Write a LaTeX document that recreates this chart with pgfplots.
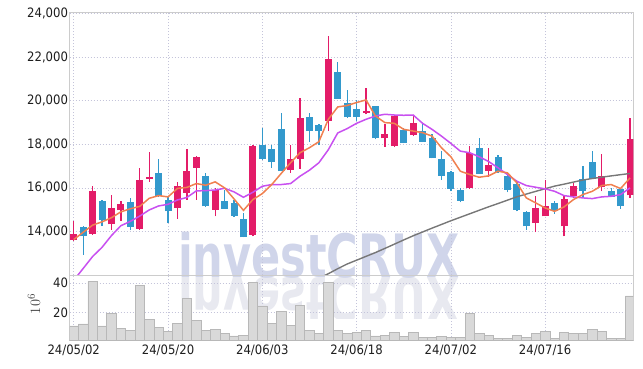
\documentclass[border=0pt]{standalone}
\usepackage{fontspec}
\setmainfont{DejaVu Sans Condensed}
\usepackage{pgfplots}
\pgfplotsset{compat=1.18}
\usepackage{pgfplotstable}
\definecolor{upc}{HTML}{E31C68}
\definecolor{dnc}{HTML}{3399CC}
\definecolor{mafive}{HTML}{F08050}
\definecolor{matwenty}{HTML}{C850F0}
\definecolor{masixty}{HTML}{777777}
\definecolor{axc}{HTML}{CCCCCC}
\definecolor{gridc}{HTML}{C4C4DA}
\definecolor{tickc}{HTML}{1E1E1E}
\definecolor{volf}{HTML}{D9D9D9}
\definecolor{vole}{HTML}{B8B8B8}
\definecolor{wm}{HTML}{D0D5EA}
\definecolor{wmr}{HTML}{E8E9F0}

\pgfplotstableread{
i o h l c
0 13585 14460 13540 13894
2 13894 16074 13848 15843
4 14323 15677 14078 15092
5 14968 15415 14479 15276
7 14124 16921 14078 16382
8 16415 17659 16276 16507
11 15078 16258 14571 16074
12 15769 17797 15461 16797
13 16921 17456 15461 17410
15 15000 16000 14691 15889
19 13848 17950 13770 17903
23 16811 17981 16691 17336
24 17336 20147 16875 19193
27 19069 22958 18608 21912
31 19456 20562 19378 19516
33 18272 18917 17889 18456
34 17917 19345 17871 19299
36 18424 19299 18377 18963
42 16000 17917 15954 17580
44 16765 17811 16507 17028
49 14387 15645 13972 15092
50 14691 16382 14691 15152
52 14230 15659 13770 15507
53 15645 16230 15539 16106
56 16046 17534 15843 16567
59 15659 19225 15539 18258
}\upt

\pgfplotstableread{
i o h l c
1 14203 14263 12926 13770
3 15382 15428 14263 14539
6 15369 15521 14046 14217
9 16691 17336 15600 15613
10 15461 15585 14387 14922
14 16534 16691 15138 15152
16 15415 15922 15040 15046
17 15309 15461 14664 14723
18 14585 14848 13724 13724
20 17949 18765 17300 17304
21 17797 17949 16921 17180
22 18686 19456 16765 16765
25 19271 19456 18101 18608
26 18885 18935 17949 18608
28 21327 21788 20069 20101
29 19917 20484 19230 19253
30 19608 20037 19069 19253
32 19760 19780 18226 18272
35 18654 18765 18041 18041
37 18594 18917 18100 18120
38 18304 18488 17350 17350
39 17304 17686 16382 16567
40 16737 16780 15843 15968
41 15922 16000 15336 15415
43 17843 18304 16640 16659
45 17410 17488 16700 16719
46 16567 16691 15797 15922
47 16184 16336 14922 15000
48 14908 14950 14078 14230
51 15309 15382 14802 14954
54 16429 16995 15585 15843
55 17180 17686 16420 16429
57 15843 16000 15570 15585
58 15954 16000 15032 15152
}\dnt

\pgfplotstableread{
i ma5 ma20
0 13630 11755
1 13960 12300
2 14290 12848
3 14440 13270
4 14630 13810
5 14900 14263
6 15040 14461
7 15150 14705
8 15520 14985
9 15645 15170
10 15585 15245
11 15975 15445
12 16020 15560
13 16198 15860
14 16120 15875
15 16276 15900
16 16000 15981
17 15493 15815
18 14968 15567
19 15461 15797
20 15737 16074
21 16152 16152
22 16659 16152
23 17152 16198
24 17613 16535
25 17843 16811
26 18120 17152
27 19147 17750
28 19714 18520
29 19780 18720
30 19917 18963
31 20037 19147
32 19299 19299
33 18995 19378
34 18963 19345
35 18686 19332
36 18608 19345
37 18534 18963
38 18377 18686
39 17843 18377
40 17428 18041
41 16765 17686
42 16613 17613
43 16488 17428
44 16550 17210
45 16765 16921
46 16691 16613
47 16230 16304
48 15539 16106
49 15309 16028
50 15078 15954
51 14922 15843
52 15124 15645
53 15461 15585
54 15691 15539
55 15843 15507
56 16106 15585
57 16152 15613
58 15968 15691
59 16456 16000
}\mat

\pgfplotstableread{
i ma
26 11850
27 12058
28 12290
29 12505
30 12680
31 12855
32 13030
33 13220
34 13415
35 13610
36 13800
37 13975
38 14150
39 14320
40 14490
41 14650
42 14810
43 14970
44 15130
45 15280
46 15435
47 15590
48 15715
49 15840
50 15960
51 16080
52 16170
53 16265
54 16360
55 16430
56 16490
57 16550
58 16605
59 16660
}\mlong

\pgfplotstableread{
i v
0 11.0
1 12.3
2 41.1
3 11.0
4 19.6
5 9.4
6 8.0
7 38.6
8 15.5
9 10.1
10 7.4
11 12.8
12 29.8
13 14.8
14 8.0
15 8.7
16 6.0
17 4.2
18 4.6
19 40.4
20 24.6
21 12.8
22 20.9
23 11.6
24 25.0
25 8.0
26 6.0
27 40.4
28 7.8
29 6.0
30 6.4
31 7.8
32 4.2
33 4.6
34 6.4
35 3.7
36 6.4
37 3.3
38 3.3
39 3.7
40 3.3
41 3.3
42 19.6
43 6.0
44 4.6
45 2.3
46 2.3
47 4.6
48 3.3
49 6.0
50 7.4
51 2.3
52 6.7
53 6.0
54 6.0
55 8.7
56 7.4
57 2.6
58 2.6
59 31.4
}\volt

\pgfplotsset{
  common/.style={
    scale only axis, width=563.8bp,
    xmin=-0.45, xmax=59.35,
    axis line style={draw=axc, line width=0.8bp},
    grid=major,
    major grid style={draw=gridc, line width=0.6bp, dash pattern=on 1bp off 2bp},
    major tick length=0pt,
    tick style={draw=none},
    xtick={0,10,20,30,40,50},
    tick label style={font=\fontsize{13}{13}\selectfont, text=tickc},
    yticklabel style={xshift=2bp},
    /pgf/number format/assume math mode=true,
    scaled y ticks=false,
    clip=true,
  },
  candle/.style={only marks, mark=o, mark size=0pt, mark options={draw=none, fill=none}, forget plot,
    error bars/.cd, y dir=plus, y explicit, error mark=none},
}

\begin{document}
\begin{tikzpicture}
\useasboundingbox (0bp,0bp) rectangle (643bp,-369bp);
\begin{scope}
\clip (69.5bp,-12.5bp) rectangle (633.3bp,-318bp);
\node[anchor=base west, inner sep=0pt, text=wmr, font=\bfseries\fontsize{60}{60}\selectfont, xscale=0.80, yscale=-1] at (178bp,-277bp) {investCRUX};
\node[anchor=base west, inner sep=0pt, text=wm, font=\bfseries\fontsize{60}{60}\selectfont, xscale=0.80] at (178bp,-277bp) {investCRUX};
\end{scope}

\begin{axis}[common,
  at={(69.5bp,-12.5bp)}, anchor=north west, height=262.5bp,
  ymin=12000, ymax=24050,
  ytick={14000,16000,18000,20000,22000,24000},
  xticklabels={},
  yticklabel style={/pgf/number format/.cd, fixed, 1000 sep={,}},
]
% wicks
\addplot[candle, error bar style={line width=1.3bp, draw=upc}]
  table[x=i, y=l, y error plus expr=\thisrow{h}-\thisrow{l}] {\upt};
\addplot[candle, error bar style={line width=1.3bp, draw=dnc}]
  table[x=i, y=l, y error plus expr=\thisrow{h}-\thisrow{l}] {\dnt};
% bodies
\addplot[candle, error bar style={line width=7bp, draw=upc}]
  table[x=i, y=o, y error plus expr=\thisrow{c}-\thisrow{o}] {\upt};
\addplot[candle, error bar style={line width=7bp, draw=dnc}]
  table[x=i, y=c, y error plus expr=\thisrow{o}-\thisrow{c}] {\dnt};
% moving averages
\addplot[masixty, line width=1.4bp, mark=none] table[x=i, y=ma] {\mlong};
\addplot[matwenty, line width=1.5bp, mark=none] table[x=i, y=ma20] {\mat};
\addplot[mafive, line width=1.5bp, mark=none] table[x=i, y=ma5] {\mat};
\end{axis}

\begin{axis}[common,
  at={(69.5bp,-275bp)}, anchor=north west, height=65bp,
  ymin=1.4, ymax=45.6,
  ytick={20,40},
  xticklabels={24/05/02,24/05/20,24/06/03,24/06/18,24/07/02,24/07/16},
  xticklabel style={yshift=-1bp},
]
\addplot[ybar, bar width=1, fill=volf, draw=vole, line width=0.6bp] table[x=i, y=v] {\volt};
\end{axis}

\node[rotate=90, text=black!75, font=\fontsize{15}{15}\selectfont] at (34bp,-304bp) {$10^6$};
\end{tikzpicture}
\end{document}
